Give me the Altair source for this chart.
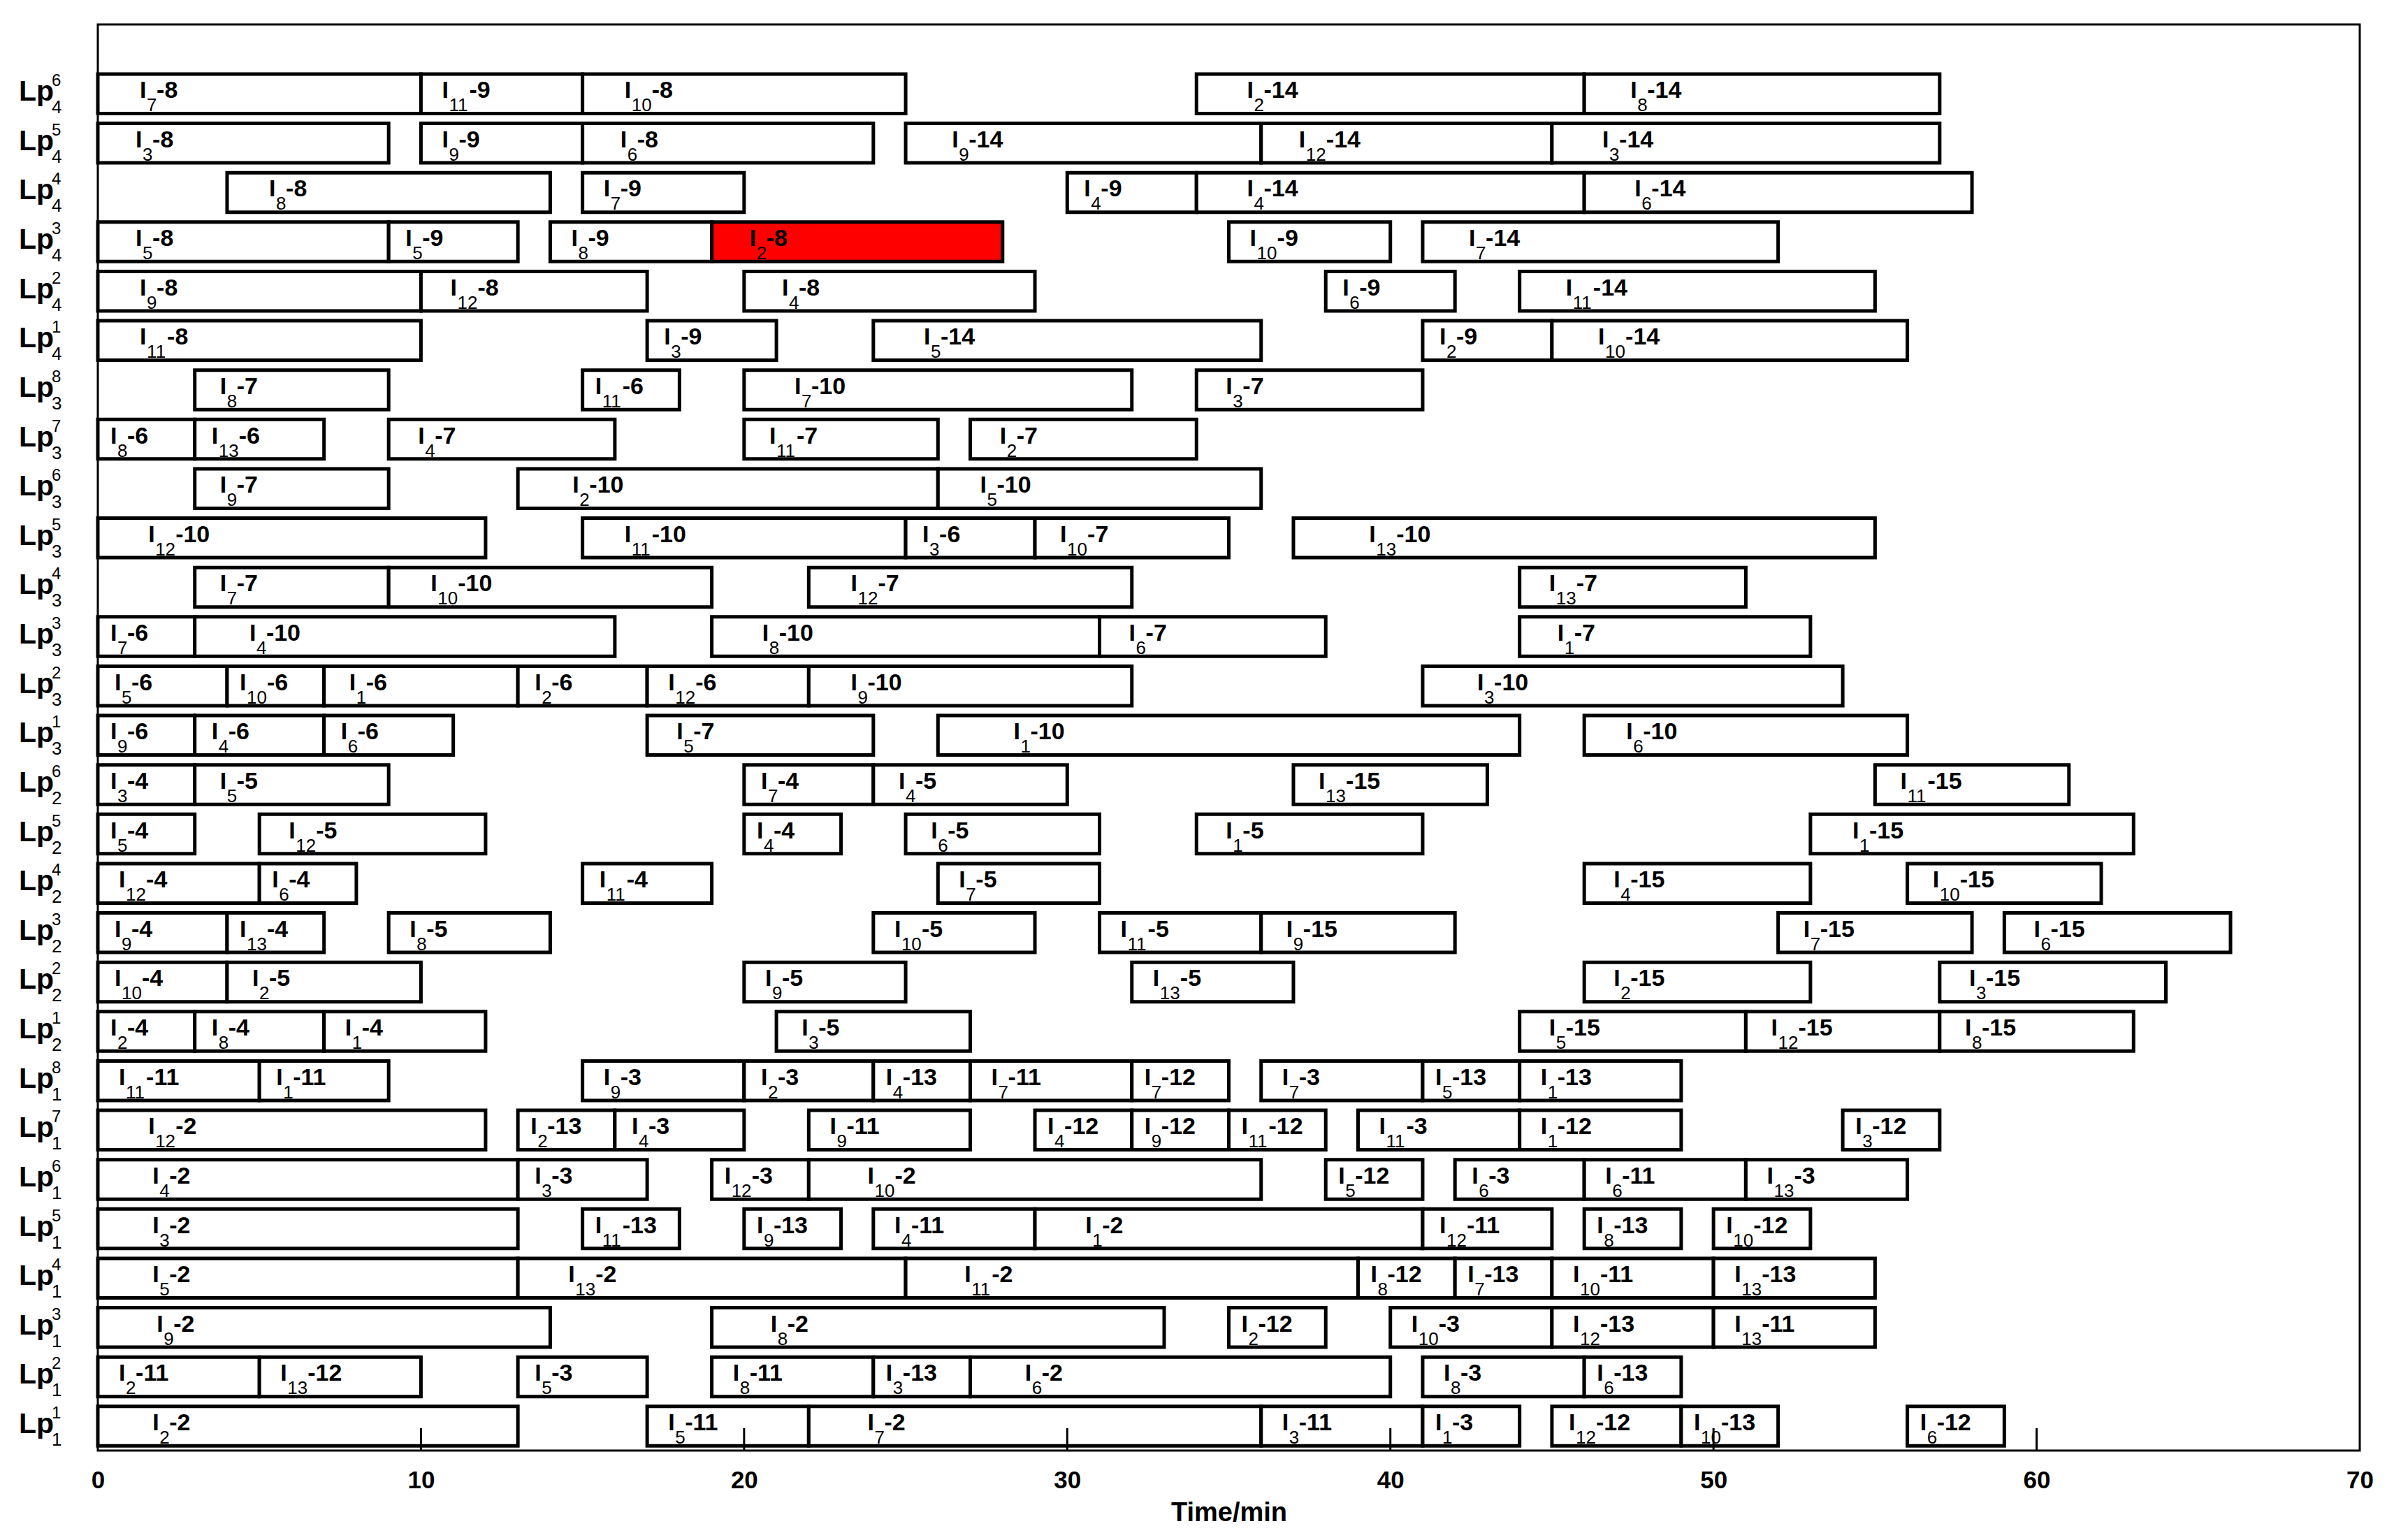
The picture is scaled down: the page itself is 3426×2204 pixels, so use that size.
import altair as alt
import pandas as pd

# Rows, top to bottom: (subscript k, superscript j) of Lp_k^j
ROWS = [("4", "6"), ("4", "5"), ("4", "4"), ("4", "3"), ("4", "2"), ("4", "1"),
        ("3", "8"), ("3", "7"), ("3", "6"), ("3", "5"), ("3", "4"), ("3", "3"), ("3", "2"), ("3", "1"),
        ("2", "6"), ("2", "5"), ("2", "4"), ("2", "3"), ("2", "2"), ("2", "1"),
        ("1", "8"), ("1", "7"), ("1", "6"), ("1", "5"), ("1", "4"), ("1", "3"), ("1", "2"), ("1", "1")]

# Tasks per row: (job i of I_i, operation, start, end) in minutes
LP4_6 = [(7, 8, 0, 10), (11, 9, 10, 15), (10, 8, 15, 25), (2, 14, 34, 46), (8, 14, 46, 57)]
LP4_5 = [(3, 8, 0, 9), (9, 9, 10, 15), (6, 8, 15, 24), (9, 14, 25, 36), (12, 14, 36, 45), (3, 14, 45, 57)]
LP4_4 = [(8, 8, 4, 14), (7, 9, 15, 20), (4, 9, 30, 34), (4, 14, 34, 46), (6, 14, 46, 58)]
LP4_3 = [(5, 8, 0, 9), (5, 9, 9, 13), (8, 9, 14, 19), (2, 8, 19, 28), (10, 9, 35, 40), (7, 14, 41, 52)]
LP4_2 = [(9, 8, 0, 10), (12, 8, 10, 17), (4, 8, 20, 29), (6, 9, 38, 42), (11, 14, 44, 55)]
LP4_1 = [(11, 8, 0, 10), (3, 9, 17, 21), (5, 14, 24, 36), (2, 9, 41, 45), (10, 14, 45, 56)]
LP3_8 = [(8, 7, 3, 9), (11, 6, 15, 18), (7, 10, 20, 32), (3, 7, 34, 41)]
LP3_7 = [(8, 6, 0, 3), (13, 6, 3, 7), (4, 7, 9, 16), (11, 7, 20, 26), (2, 7, 27, 34)]
LP3_6 = [(9, 7, 3, 9), (2, 10, 13, 26), (5, 10, 26, 36)]
LP3_5 = [(12, 10, 0, 12), (11, 10, 15, 25), (3, 6, 25, 29), (10, 7, 29, 35), (13, 10, 37, 55)]
LP3_4 = [(7, 7, 3, 9), (10, 10, 9, 19), (12, 7, 22, 32), (13, 7, 44, 51)]
LP3_3 = [(7, 6, 0, 3), (4, 10, 3, 16), (8, 10, 19, 31), (6, 7, 31, 38), (1, 7, 44, 53)]
LP3_2 = [(5, 6, 0, 4), (10, 6, 4, 7), (1, 6, 7, 13), (2, 6, 13, 17), (12, 6, 17, 22), (9, 10, 22, 32), (3, 10, 41, 54)]
LP3_1 = [(9, 6, 0, 3), (4, 6, 3, 7), (6, 6, 7, 11), (5, 7, 17, 24), (1, 10, 26, 44), (6, 10, 46, 56)]
LP2_6 = [(3, 4, 0, 3), (5, 5, 3, 9), (7, 4, 20, 24), (4, 5, 24, 30), (13, 15, 37, 43), (11, 15, 55, 61)]
LP2_5 = [(5, 4, 0, 3), (12, 5, 5, 12), (4, 4, 20, 23), (6, 5, 25, 31), (1, 5, 34, 41), (1, 15, 53, 63)]
LP2_4 = [(12, 4, 0, 5), (6, 4, 5, 8), (11, 4, 15, 19), (7, 5, 26, 31), (4, 15, 46, 53), (10, 15, 56, 62)]
LP2_3 = [(9, 4, 0, 4), (13, 4, 4, 7), (8, 5, 9, 14), (10, 5, 24, 29), (11, 5, 31, 36), (9, 15, 36, 42),
         (7, 15, 52, 58), (6, 15, 59, 66)]
LP2_2 = [(10, 4, 0, 4), (2, 5, 4, 10), (9, 5, 20, 25), (13, 5, 32, 37), (2, 15, 46, 53), (3, 15, 57, 64)]
LP2_1 = [(2, 4, 0, 3), (8, 4, 3, 7), (1, 4, 7, 12), (3, 5, 21, 27), (5, 15, 44, 51), (12, 15, 51, 57), (8, 15, 57, 63)]
LP1_8 = [(11, 11, 0, 5), (1, 11, 5, 9), (9, 3, 15, 20), (2, 3, 20, 24), (4, 13, 24, 27), (7, 11, 27, 32),
         (7, 12, 32, 35), (7, 3, 36, 41), (5, 13, 41, 44), (1, 13, 44, 49)]
LP1_7 = [(12, 2, 0, 12), (2, 13, 13, 16), (4, 3, 16, 20), (9, 11, 22, 27), (4, 12, 29, 32), (9, 12, 32, 35),
         (11, 12, 35, 38), (11, 3, 39, 44), (1, 12, 44, 49), (3, 12, 54, 57)]
LP1_6 = [(4, 2, 0, 13), (3, 3, 13, 17), (12, 3, 19, 22), (10, 2, 22, 36), (5, 12, 38, 41), (6, 3, 42, 46),
         (6, 11, 46, 51), (13, 3, 51, 56)]
LP1_5 = [(3, 2, 0, 13), (11, 13, 15, 18), (9, 13, 20, 23), (4, 11, 24, 29), (1, 2, 29, 41), (12, 11, 41, 45),
         (8, 13, 46, 49), (10, 12, 50, 53)]
LP1_4 = [(5, 2, 0, 13), (13, 2, 13, 25), (11, 2, 25, 39), (8, 12, 39, 42), (7, 13, 42, 45), (10, 11, 45, 50),
         (13, 13, 50, 55)]
LP1_3 = [(9, 2, 0, 14), (8, 2, 19, 33), (2, 12, 35, 38), (10, 3, 40, 45), (12, 13, 45, 50), (13, 11, 50, 55)]
LP1_2 = [(2, 11, 0, 5), (13, 12, 5, 10), (5, 3, 13, 17), (8, 11, 19, 24), (3, 13, 24, 27), (6, 2, 27, 40),
         (8, 3, 41, 46), (6, 13, 46, 49)]
LP1_1 = [(2, 2, 0, 13), (5, 11, 17, 22), (7, 2, 22, 36), (3, 11, 36, 41), (1, 3, 41, 44), (12, 12, 45, 49),
         (10, 13, 49, 52), (6, 12, 56, 59)]

ROW_TASKS = [LP4_6, LP4_5, LP4_4, LP4_3, LP4_2, LP4_1,
             LP3_8, LP3_7, LP3_6, LP3_5, LP3_4, LP3_3, LP3_2, LP3_1,
             LP2_6, LP2_5, LP2_4, LP2_3, LP2_2, LP2_1,
             LP1_8, LP1_7, LP1_6, LP1_5, LP1_4, LP1_3, LP1_2, LP1_1]

HIGHLIGHT = [("4", "3", 2, 8)]          # the red task I_2-8 on Lp_4^3
X_TICKS = [0, 10, 20, 30, 40, 50, 60, 70]
INNER_TICKS = [10, 20, 30, 40, 50, 60]

# ---- build tables ----
n = len(ROWS)
task_recs = []
row_recs = []
for i, ((k, j), tasks) in enumerate(zip(ROWS, ROW_TASKS)):
    idx = n - 1 - i
    row_recs.append({"idx": idx, "k": k, "j": j})
    for job, op, s, e in tasks:
        task_recs.append({
            "idx": idx, "job": str(job), "op": f"-{op}", "start": s, "end": e,
            "hl": (k, j, job, op) in HIGHLIGHT,
        })
tasks_df = pd.DataFrame(task_recs)
rows_df = pd.DataFrame(row_recs)
ticks_df = pd.DataFrame({"t": INNER_TICKS})

W, H = 3237, 2041
FONT = "Liberation Sans"
xs = alt.Scale(domain=[0, 70], nice=False, zero=False)
ys = alt.Scale(domain=[0, 28.9], nice=False, zero=False)
x_axis = alt.Axis(values=X_TICKS, ticks=False, domain=False, grid=False,
                  labelFont=FONT, labelFontSize=35, labelFontWeight="bold",
                  labelColor="black", labelPadding=25, labelFlush=False,
                  title="Time/min", titleFont=FONT, titleFontSize=38,
                  titleFontWeight="bold", titleColor="black", titlePadding=10)


def X(field):
    return alt.X(field, scale=xs, axis=x_axis, title="Time/min")


def Y(field):
    return alt.Y(field, scale=ys, axis=None)


base = alt.Chart(tasks_df).transform_calculate(
    y0="datum.idx + 0.095",
    y1="datum.idx + 0.895",
    ym="datum.idx + 0.495",
    lx="datum.start + 0.13 * (datum.end - datum.start)",
    nd="length(datum.job)",
)

bars = base.mark_rect(stroke="black", strokeWidth=5).encode(
    x=X("start:Q"),
    x2="end:Q",
    y=Y("y0:Q"),
    y2="y1:Q",
    fill=alt.condition("datum.hl", alt.value("#FF0000"), alt.value("white")),
)

txt_i = base.mark_text(align="left", baseline="middle", font=FONT, fontSize=34,
                       fontWeight="bold", color="black", dy=-4, text="I").encode(
    x=X("lx:Q"), y=Y("ym:Q"),
)

txt_sub = base.mark_text(align="left", baseline="middle", font=FONT, fontSize=26,
                         color="black", dx=10, dy=17).encode(
    x=X("lx:Q"), y=Y("ym:Q"), text="job:N",
)

txt_op1 = base.transform_filter("datum.nd == 1").mark_text(
    align="left", baseline="middle", font=FONT, fontSize=34, fontWeight="bold",
    color="black", dx=24, dy=-4).encode(
    x=X("lx:Q"), y=Y("ym:Q"), text="op:N",
)

txt_op2 = base.transform_filter("datum.nd == 2").mark_text(
    align="left", baseline="middle", font=FONT, fontSize=34, fontWeight="bold",
    color="black", dx=39, dy=-4).encode(
    x=X("lx:Q"), y=Y("ym:Q"), text="op:N",
)

rbase = alt.Chart(rows_df).transform_calculate(ym="datum.idx + 0.495")

lab_lp = rbase.mark_text(align="right", baseline="middle", font=FONT, fontSize=41,
                         fontWeight="bold", color="black", dy=-2, text="Lp").encode(
    x=alt.value(-63), y=Y("ym:Q"),
)
lab_sup = rbase.mark_text(align="left", baseline="middle", font=FONT, fontSize=24,
                          color="black", dy=-18).encode(
    x=alt.value(-66), y=Y("ym:Q"), text="j:N",
)
lab_sub = rbase.mark_text(align="left", baseline="middle", font=FONT, fontSize=26,
                          color="black", dy=20).encode(
    x=alt.value(-66), y=Y("ym:Q"), text="k:N",
)

ticks = alt.Chart(ticks_df).mark_rule(color="black", strokeWidth=3).encode(
    x=X("t:Q"),
    y=alt.value(H),
    y2=alt.value(H - 32),
)

chart = alt.layer(bars, txt_i, txt_sub, txt_op1, txt_op2, lab_lp, lab_sup, lab_sub, ticks).properties(
    width=W, height=H,
    autosize=alt.AutoSizeParams(type="none"),
    padding={"left": 132, "top": 27, "right": 40, "bottom": 120},
    background="white",
).configure_view(stroke="black", strokeWidth=3)

chart.save("out.html", embed_options={"renderer": "svg", "actions": False})
